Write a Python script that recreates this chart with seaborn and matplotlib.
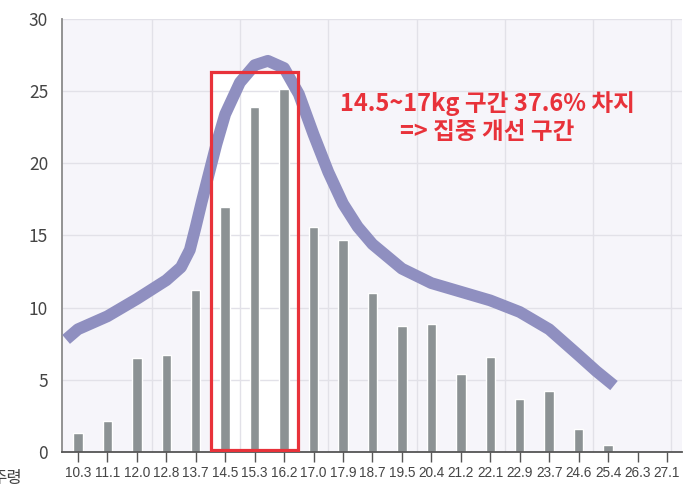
import matplotlib
matplotlib.use("Agg")
import matplotlib.pyplot as plt
from matplotlib.patches import Rectangle
import pandas as pd
import seaborn as sns

# weight class labels (kg) and share of records (%)
weights = ["10.3", "11.1", "12.0", "12.8", "13.7", "14.5", "15.3", "16.2", "17.0", "17.9",
           "18.7", "19.5", "20.4", "21.2", "22.1", "22.9", "23.7", "24.6", "25.4", "26.3", "27.1"]
shares = [1.3, 2.15, 6.5, 6.7, 11.2, 17.0, 23.9, 25.15, 15.6, 14.7,
          11.0, 8.7, 8.9, 5.4, 6.6, 3.7, 4.2, 1.6, 0.5, 0.0, 0.0]

# trend curve (x in category index units)
curve_x = [-0.4, 0, 1, 2, 3, 3.5, 3.8, 4.0, 4.2, 4.4, 4.7, 5.0, 5.5, 6.0, 6.45, 7.0, 7.5,
           8.0, 8.5, 9.0, 9.5, 10, 11, 12, 13, 14, 15, 16, 17, 17.6, 18.2]
curve_y = [7.8, 8.5, 9.4, 10.6, 11.9, 12.8, 14.0, 15.6, 17.3, 18.9, 21.3, 23.4, 25.6, 26.8, 27.1, 26.6, 24.8,
           22.0, 19.4, 17.2, 15.6, 14.4, 12.7, 11.7, 11.1, 10.5, 9.7, 8.5, 6.7, 5.6, 4.6]

focus_start, focus_end = "14.5", "16.2"
note = "14.5~17kg 구간 37.6% 차지\n=> 집중 개선 구간"
x_label = "주령"

BAR = "#8c9294"
CURVE = "#8f8fc0"
RED = "#e8323a"
BG = "#f6f5fa"
GRID = "#e2e1e8"

sns.set_theme(style="white")
plt.rcParams["font.family"] = ["Noto Sans CJK KR", "DejaVu Sans"]

bars = pd.DataFrame({"weight": weights, "share": shares})
trend = pd.DataFrame({"x": curve_x, "y": curve_y})

fig = plt.figure(figsize=(6.99, 4.93), dpi=100)
ax = fig.add_axes([0.0887, 0.0832, 0.8870, 0.8783])
ax.set_facecolor(BG)

# white box behind the focus range
i0, i1 = weights.index(focus_start), weights.index(focus_end)
ax.add_patch(Rectangle((i0 - 0.48, 0), (i1 - i0) + 0.96, 26.3, facecolor="white",
                       edgecolor="none", zorder=0.3))

for y in range(5, 31, 5):
    ax.axhline(y, color=GRID, lw=1, zorder=0.5)
for xv in [2.5, 5.5, 8.5, 11.5, 14.5, 17.5, 20.15]:
    ax.axvline(xv, color=GRID, lw=1, zorder=0.5)

sns.barplot(data=bars, x="weight", y="share", order=weights, color=BAR,
            saturation=1, width=0.32, ax=ax, zorder=2)

sns.lineplot(data=trend, x="x", y="y", color=CURVE, lw=8.5, ax=ax, zorder=3,
             solid_capstyle="butt", solid_joinstyle="round", sort=False)

ax.add_patch(Rectangle((i0 - 0.48, 0.15), (i1 - i0) + 0.96, 26.15, facecolor="none",
                       edgecolor=RED, lw=2.3, zorder=4))

ax.text(13.9, 23.15, note, color=RED, fontsize=17, fontweight="bold", ha="center",
        va="center", linespacing=1.2, zorder=5)

ax.set_xlim(-0.54, 20.51)
ax.set_ylim(0, 30)
ax.set_yticks(range(0, 31, 5))
ax.set_xlabel("")
ax.set_ylabel("")

for side in ["top", "right"]:
    ax.spines[side].set_visible(False)
ax.spines["left"].set_color("#8a8a8a")
ax.spines["left"].set_linewidth(1.3)
ax.spines["bottom"].set_color("#555555")
ax.spines["bottom"].set_linewidth(1.3)

ax.tick_params(axis="y", length=0, pad=10, labelsize=12.5, labelcolor="#444444")
ax.tick_params(axis="x", bottom=True, length=7, width=1, color="#555555", pad=3,
               labelsize=9.8, labelcolor="#444444")
for lbl in ax.get_xticklabels():
    lbl.set_family(["Liberation Sans", "DejaVu Sans"])

fig.text(0.031, 0.030, x_label, ha="right", va="center", fontsize=12, color="#444444")

fig.savefig("out.png", dpi=100)
plt.close(fig)
